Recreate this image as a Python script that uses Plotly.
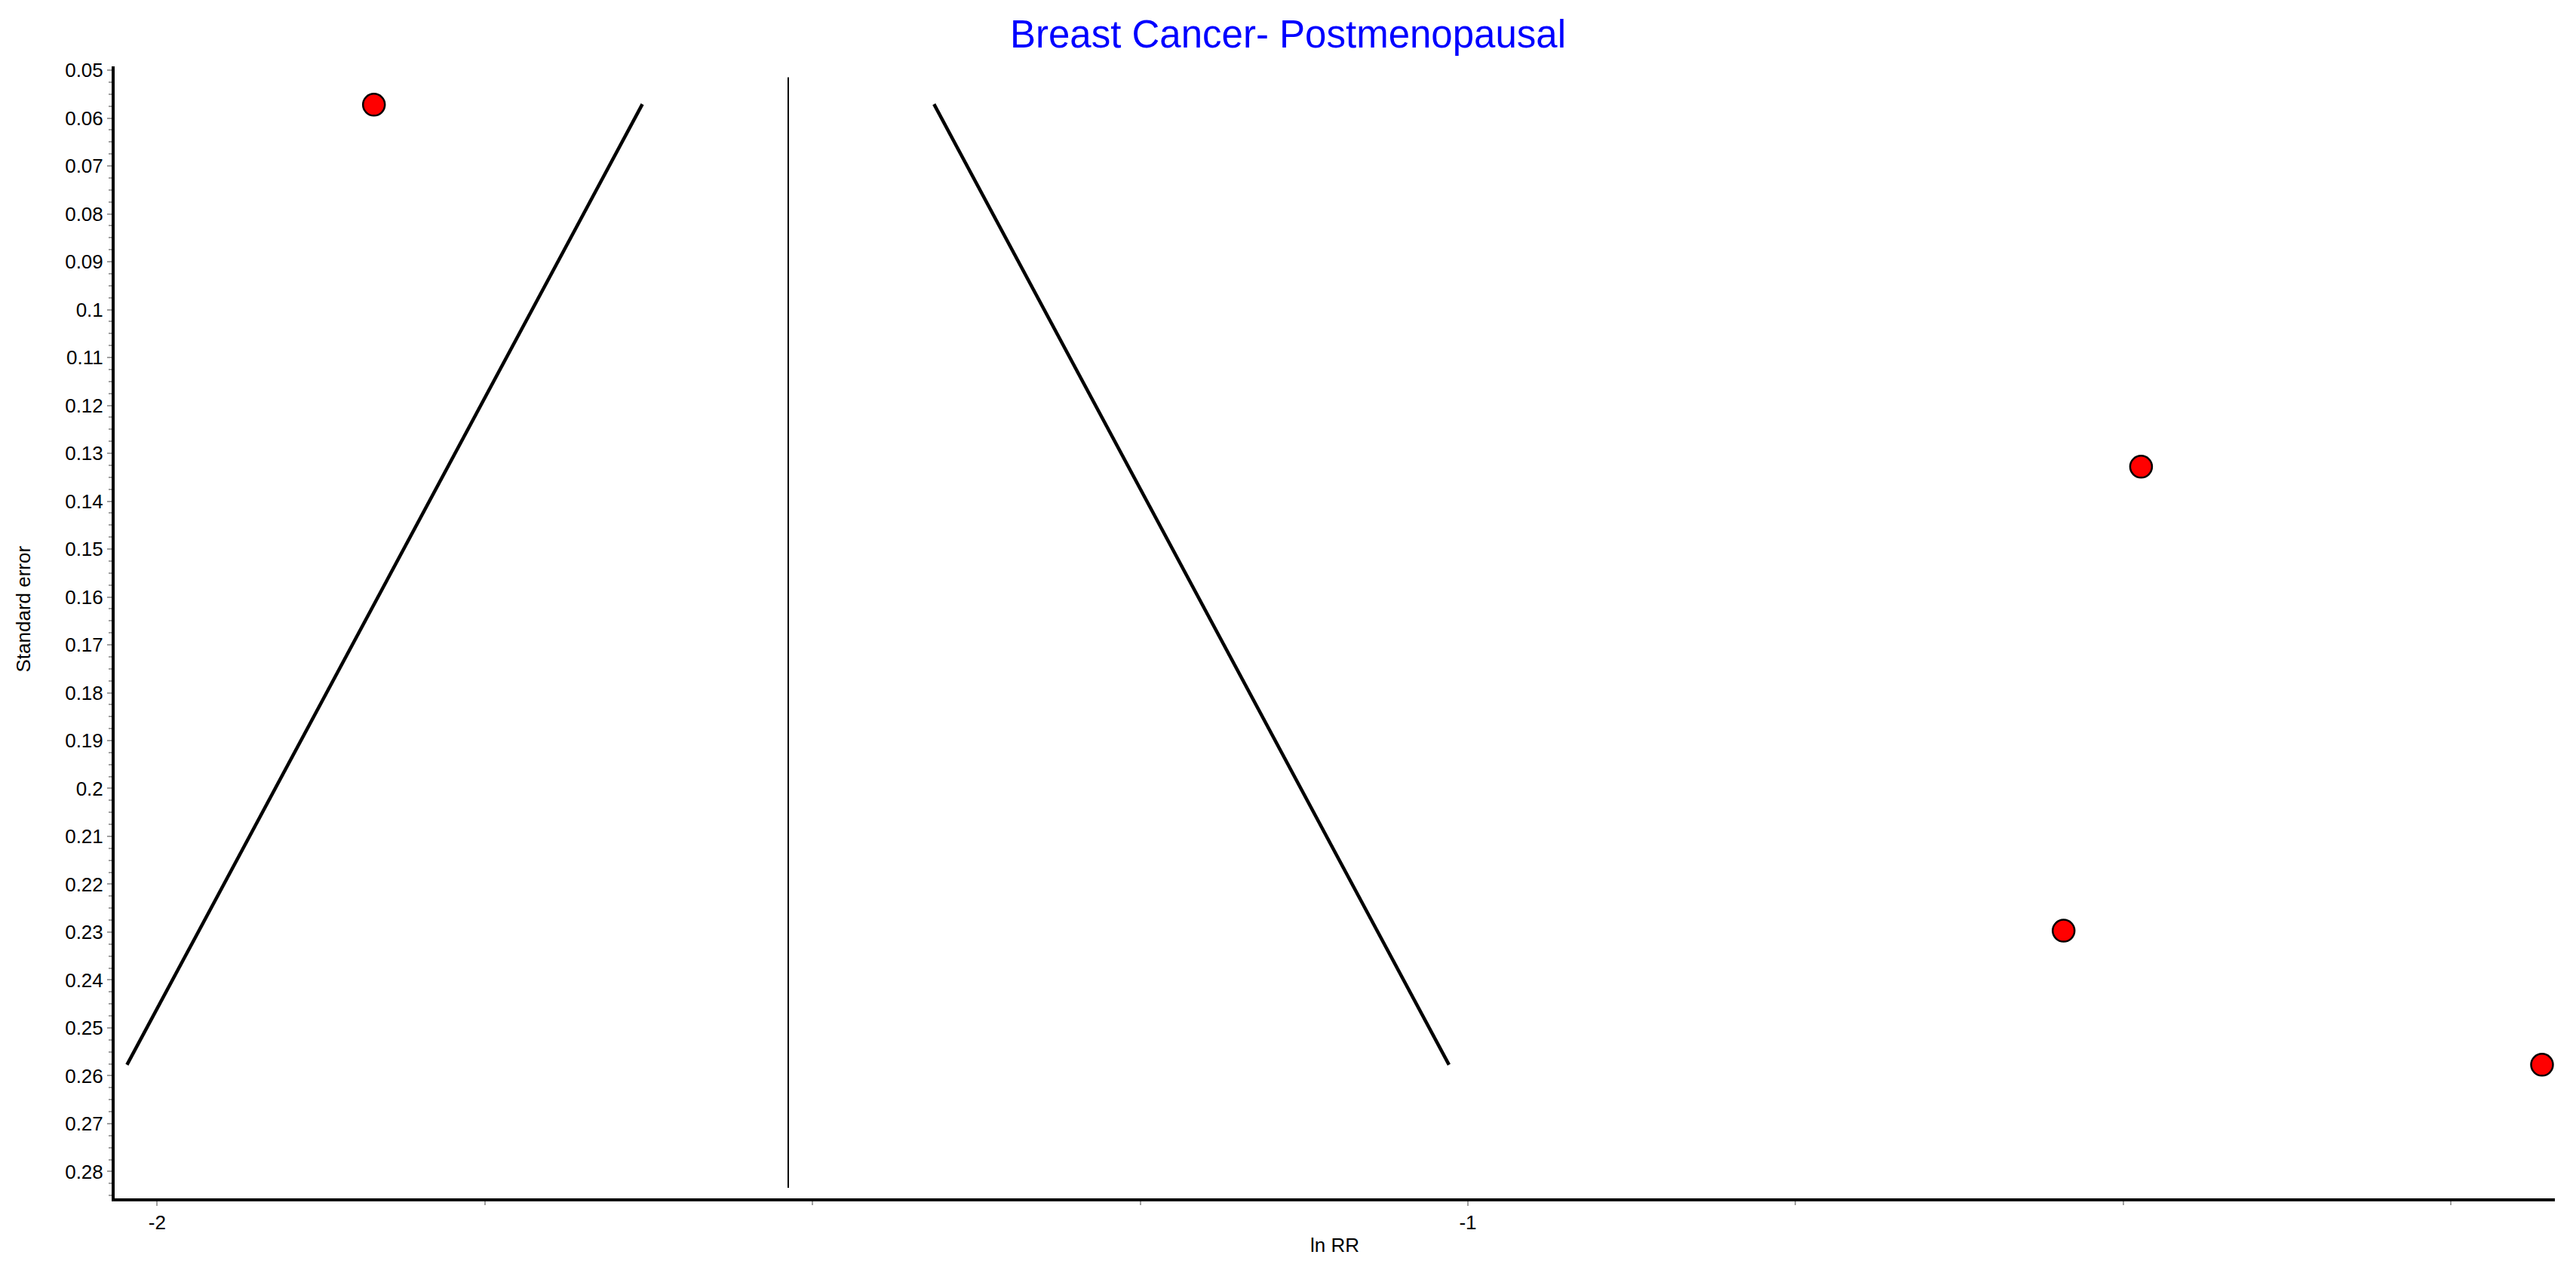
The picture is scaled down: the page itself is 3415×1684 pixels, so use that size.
import plotly.graph_objects as go

# ---- data ----
ln_rr = [-1.8346, -0.4864, -0.5455, -0.1805]
std_err = [0.0572, 0.1328, 0.2297, 0.2577]

pooled_ln_rr = [-1.5185, -1.5185]
pooled_line_se = [0.0515, 0.2834]

funnel_left_x = [-2.023, -1.6298]
funnel_right_x = [-1.0144, -1.4073]
funnel_se = [0.2577, 0.0571]

y_tick_vals = [0.05, 0.06, 0.07, 0.08, 0.09, 0.10, 0.11, 0.12, 0.13, 0.14, 0.15, 0.16,
               0.17, 0.18, 0.19, 0.20, 0.21, 0.22, 0.23, 0.24, 0.25, 0.26, 0.27, 0.28]
y_tick_text = ['0.05', '0.06', '0.07', '0.08', '0.09', '0.1', '0.11', '0.12', '0.13', '0.14',
               '0.15', '0.16', '0.17', '0.18', '0.19', '0.2', '0.21', '0.22', '0.23', '0.24',
               '0.25', '0.26', '0.27', '0.28']
x_tick_vals = [-2, -1]
x_tick_text = ['-2', '-1']

FONT = "Liberation Sans, Arial, sans-serif"
OFF = 8  # default page body margin
W, H = 3415 - OFF, 1684 - OFF
L, R, T, B = 152 - OFF, 28, 88 - OFF, 95
PW, PH = W - L - R, H - T - B

fig = go.Figure()

fig.add_trace(go.Scatter(x=funnel_left_x, y=funnel_se, mode='lines',
                         line=dict(color='black', width=4.5), showlegend=False, hoverinfo='skip'))
fig.add_trace(go.Scatter(x=funnel_right_x, y=funnel_se, mode='lines',
                         line=dict(color='black', width=4.5), showlegend=False, hoverinfo='skip'))
fig.add_trace(go.Scatter(x=pooled_ln_rr, y=pooled_line_se, mode='lines',
                         line=dict(color='black', width=2), showlegend=False, hoverinfo='skip'))
fig.add_trace(go.Scatter(x=ln_rr, y=std_err, mode='markers',
                         marker=dict(color='#ff0000', size=29, line=dict(color='black', width=2.5)),
                         showlegend=False))

fig.update_layout(
    width=W, height=H,
    paper_bgcolor='white', plot_bgcolor='white',
    margin=dict(l=L, r=R, t=T, b=B, pad=0),
    font=dict(family=FONT, size=26, color='black'),
    title=dict(text='Breast Cancer- Postmenopausal', x=(1707.5 - OFF) / W, xref='container',
               xanchor='center', y=1 - (45.5 - OFF) / H, yref='container', yanchor='middle',
               font=dict(family=FONT, size=51, color='#0000ff')),
    xaxis=dict(range=[-2.0324, -0.1707], showgrid=False, zeroline=False,
               showline=True, linecolor='black', linewidth=4,
               tickmode='array', tickvals=x_tick_vals, ticktext=x_tick_text,
               ticks='outside', ticklen=6, tickwidth=2, tickcolor='#a0a0a0',
               tickfont=dict(family=FONT, size=26, color='black'),
               minor=dict(tickmode='linear', tick0=-2, dtick=0.25, ticks='outside',
                          ticklen=5, tickwidth=2, tickcolor='#a0a0a0', showgrid=False)),
    yaxis=dict(range=[0.2856, 0.0492], showgrid=False, zeroline=False,
               showline=True, linecolor='black', linewidth=4,
               tickmode='array', tickvals=y_tick_vals, ticktext=y_tick_text,
               ticks='outside', ticklen=6, tickwidth=2, tickcolor='#a0a0a0',
               tickfont=dict(family=FONT, size=26, color='black'),
               minor=dict(tickmode='linear', tick0=0.05, dtick=0.0025, ticks='outside',
                          ticklen=4, tickwidth=2, tickcolor='#a0a0a0', showgrid=False)),
    annotations=[
        dict(text='ln RR', xref='paper', yref='paper', x=0.5,
             y=-(1651 - (1684 - B)) / PH, xanchor='center', yanchor='middle',
             showarrow=False, font=dict(family=FONT, size=26, color='black')),
        dict(text='Standard error', xref='paper', yref='paper',
             x=(30 - 152) / PW, y=1 - (807.5 - 88) / PH,
             xanchor='center', yanchor='middle', textangle=-90,
             showarrow=False, font=dict(family=FONT, size=26, color='black')),
    ],
)

fig.write_html("out.html")
